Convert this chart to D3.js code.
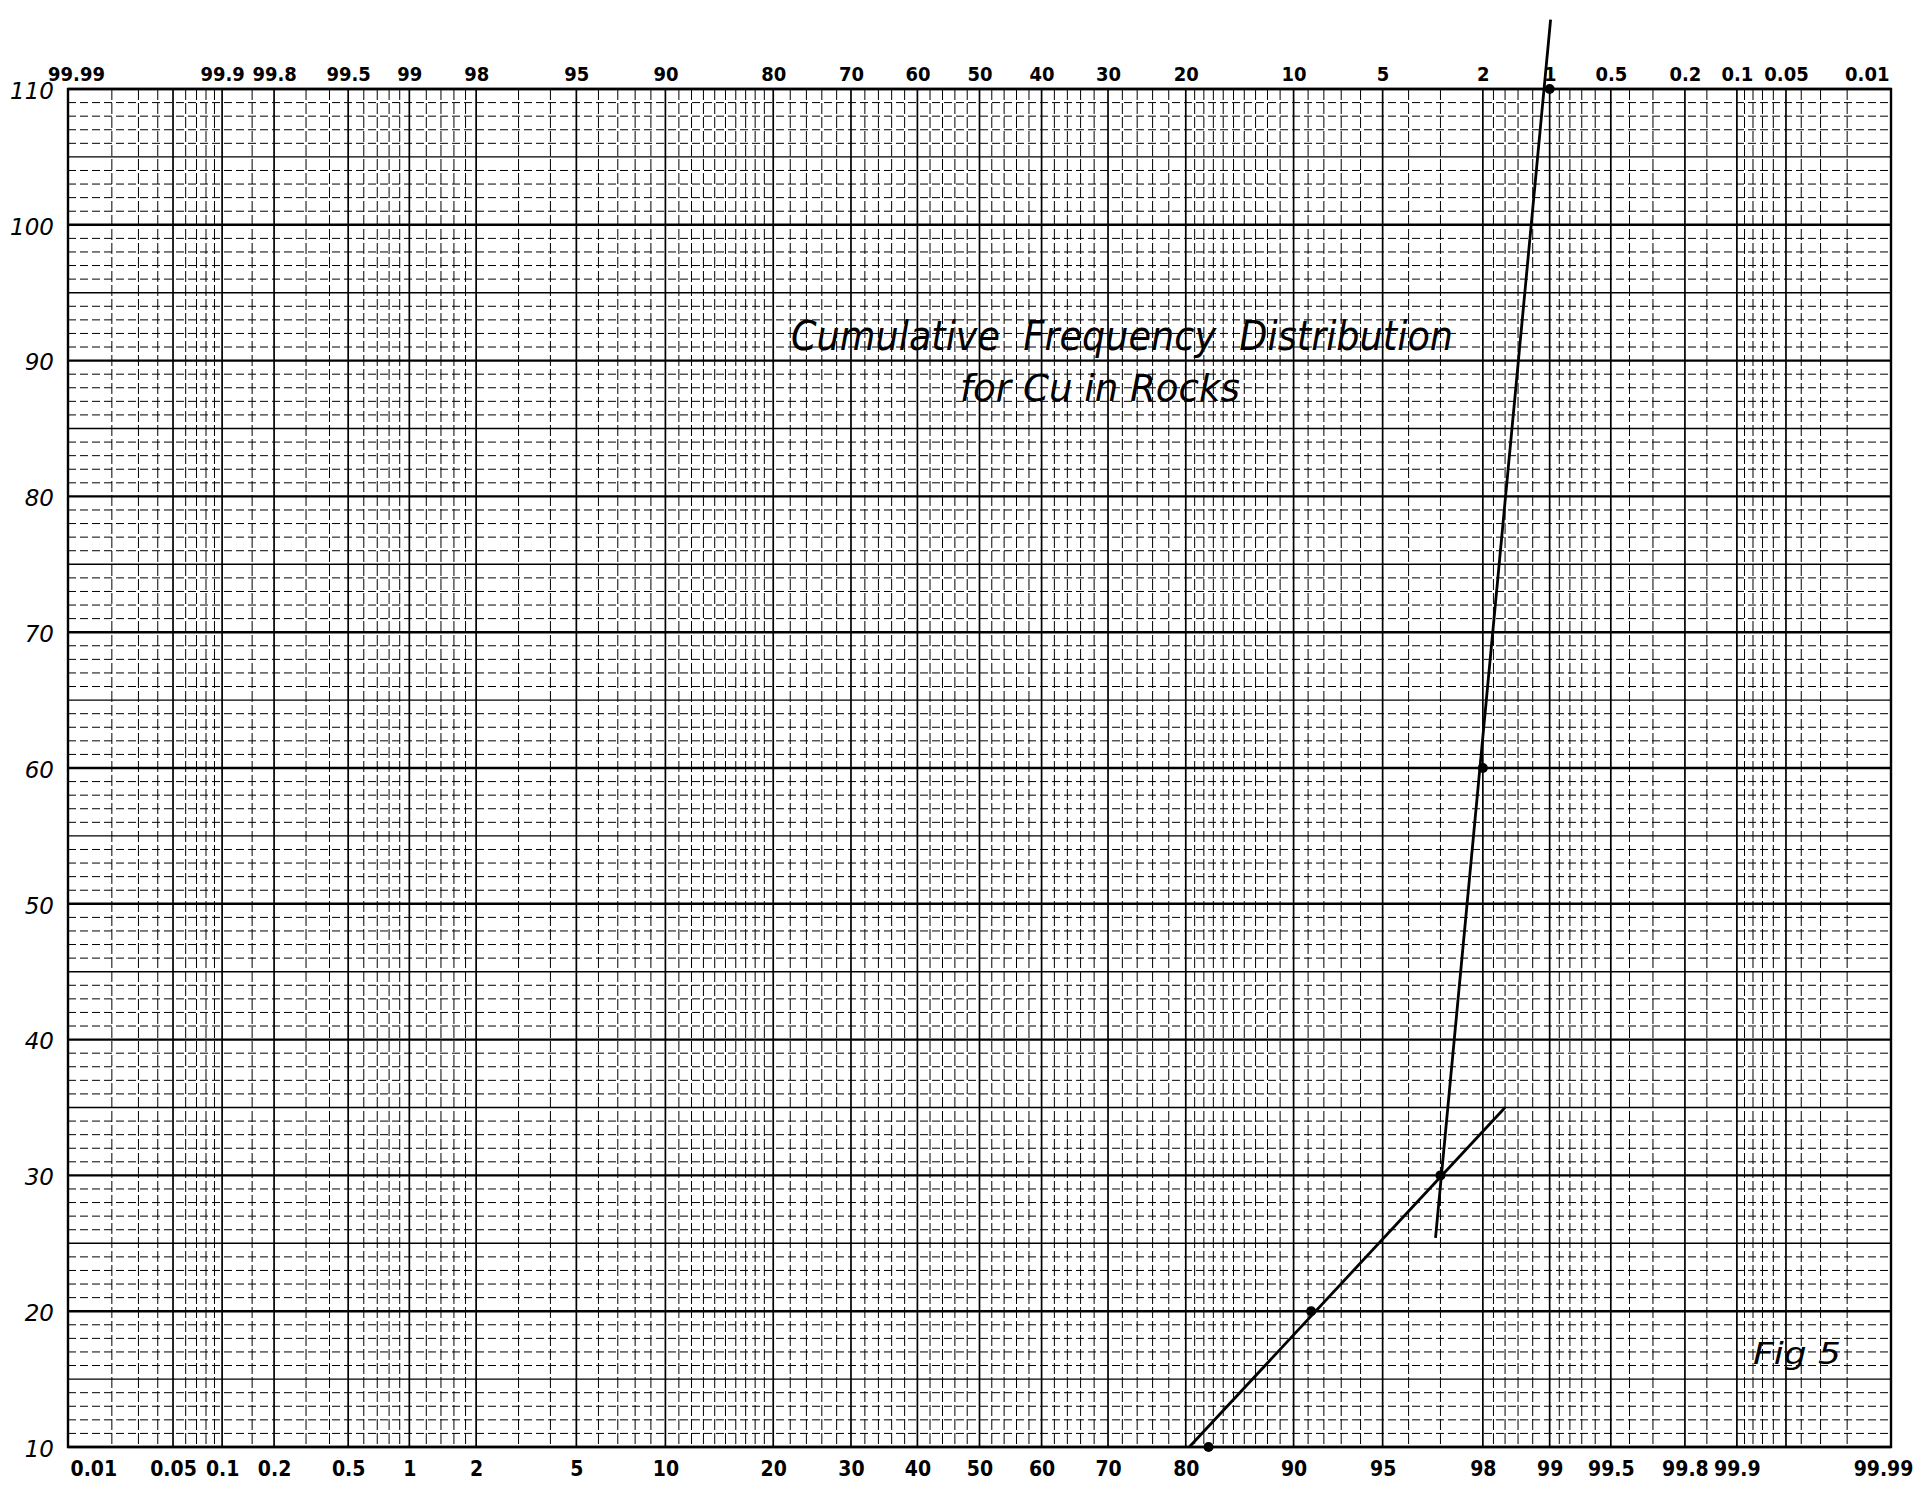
<!DOCTYPE html>
<html>
<head>
<meta charset="utf-8">
<script src="https://cdn.jsdelivr.net/npm/d3@7"></script>
<style>
  html, body { margin: 0; padding: 0; background: #fff; }
  svg { display: block; }
</style>
</head>
<body>
<svg id="chart" width="1929" height="1492"></svg>
<script>
// ---------------- data ----------------
// cumulative frequency (%) on probability scale, Cu (ppm) on linear scale
const pointProb = [82.5, 91.2, 97.0, 98.0, 99.0];
const pointCu   = [10, 20, 30, 60, 110];

// fitted straight lines (hand drawn), end points
const steepLineProb = [96.86, 99.01];
const steepLineCu   = [25.4, 115.1];
const shallowLineProb = [80.4, 98.4];
const shallowLineCu   = [10, 35];

// probability axis: bottom ticks/labels
const bottomTicks = [0.01, 0.05, 0.1, 0.2, 0.5, 1, 2, 5, 10, 20, 30, 40, 50, 60, 70, 80, 90, 95, 98, 99, 99.5, 99.8, 99.9, 99.99];
const bottomLabels = ["0.01","0.05","0.1","0.2","0.5","1","2","5","10","20","30","40","50","60","70","80","90","95","98","99","99.5","99.8","99.9","99.99"];
// top ticks (position on bottom scale) and their complementary labels
const topTicks = [0.01, 0.1, 0.2, 0.5, 1, 2, 5, 10, 20, 30, 40, 50, 60, 70, 80, 90, 95, 98, 99, 99.5, 99.8, 99.9, 99.95, 99.99];
const topLabels = ["99.99","99.9","99.8","99.5","99","98","95","90","80","70","60","50","40","30","20","10","5","2","1","0.5","0.2","0.1","0.05","0.01"];

// y axis ticks
const yTicks = [10, 20, 30, 40, 50, 60, 70, 80, 90, 100, 110];

// probability paper rulings (lower half; upper half is the complement)
const gridLowerHalf = [0.01,0.02,0.03,0.04,0.05,0.06,0.07,0.08,0.09,0.1,0.15,
  0.2,0.3,0.4,0.5,0.6,0.7,0.8,0.9,1,1.2,1.4,1.6,1.8,
  2,3,4,5,6,7,8,9,10,11,12,13,14,15,16,17,18,19,
  20,22,24,26,28,30,32,34,36,38,40,42,44,46,48,50];
const majorProb = [0.01,0.05,0.1,0.2,0.5,1,2,5,10,20,30,40,50,60,70,80,90,95,98,99,99.5,99.8,99.9,99.95,99.99];

// ---------------- helpers ----------------
function probit(p){
  const a=[-3.969683028665376e+01,2.209460984245205e+02,-2.759285104469687e+02,1.383577518672690e+02,-3.066479806614716e+01,2.506628277459239e+00];
  const b=[-5.447609879822406e+01,1.615858368580409e+02,-1.556989798598866e+02,6.680131188771972e+01,-1.328068155288572e+01];
  const c=[-7.784894002430293e-03,-3.223964580411365e-01,-2.400758277161838e+00,-2.549732539343734e+00,4.374664141464968e+00,2.938163982698783e+00];
  const d=[7.784695709041462e-03,3.224671290700398e-01,2.445134137142996e+00,3.754408661907416e+00];
  const pl=0.02425, ph=1-pl; let q,r;
  if(p<pl){q=Math.sqrt(-2*Math.log(p));return (((((c[0]*q+c[1])*q+c[2])*q+c[3])*q+c[4])*q+c[5])/((((d[0]*q+d[1])*q+d[2])*q+d[3])*q+1);}
  if(p<=ph){q=p-0.5;r=q*q;return (((((a[0]*r+a[1])*r+a[2])*r+a[3])*r+a[4])*r+a[5])*q/(((((b[0]*r+b[1])*r+b[2])*r+b[3])*r+b[4])*r+1);}
  q=Math.sqrt(-2*Math.log(1-p));return -(((((c[0]*q+c[1])*q+c[2])*q+c[3])*q+c[4])*q+c[5])/((((d[0]*q+d[1])*q+d[2])*q+d[3])*q+1);
}

const L = 68, R = 1891, T = 89, B = 1447;
const xz = d3.scaleLinear().domain([probit(0.0001), probit(0.9999)]).range([L, R]);
const x = p => xz(probit(p / 100));
const y = d3.scaleLinear().domain([10, 110]).range([B, T]);

const svg = d3.select("#chart");
svg.append("rect").attr("width", 1929).attr("height", 1492).attr("fill", "#fff");

const grid = svg.append("g");

// vertical rulings
const gridAll = Array.from(new Set(gridLowerHalf.concat(gridLowerHalf.map(v => +(100 - v).toFixed(2))))).sort((a,b)=>a-b);
grid.selectAll("line.v").data(gridAll).join("line")
  .attr("y1", T).attr("y2", B)
  .attr("x1", d => x(d)).attr("x2", d => x(d))
  .attr("stroke", "#000")
  .attr("stroke-width", d => majorProb.includes(d) ? 1.7 : 1)
  .attr("stroke-dasharray", d => majorProb.includes(d) ? null : "11,3");

// horizontal rulings
const yMinor = d3.range(10, 111, 1);
grid.selectAll("line.h").data(yMinor).join("line")
  .attr("x1", L).attr("x2", R)
  .attr("y1", d => y(d)).attr("y2", d => y(d))
  .attr("stroke", "#000")
  .attr("stroke-width", d => d % 10 === 0 ? 2.4 : (d % 5 === 0 ? 1.4 : 1))
  .attr("stroke-dasharray", d => d % 5 === 0 ? null : "8,4");

// frame
svg.append("rect").attr("x", L).attr("y", T).attr("width", R - L).attr("height", B - T)
  .attr("fill", "none").attr("stroke", "#000").attr("stroke-width", 2.4);

// axes
const fontLab = "'DejaVu Sans Condensed', 'DejaVu Sans', sans-serif";

const bottomAxis = d3.axisBottom(xz).tickValues(bottomTicks.map(p => probit(p / 100))).tickSize(0).tickPadding(0)
  .tickFormat((d, i) => bottomLabels[i]);
const gB = svg.append("g").attr("transform", `translate(0,${B})`).call(bottomAxis);
gB.select(".domain").remove();
gB.selectAll("text").attr("dy", null).attr("y", 29)
  .attr("font-family", fontLab).attr("font-weight", "bold").attr("font-size", 21).attr("fill", "#000");
gB.selectAll(".tick").filter((d, i) => i === 0).select("text").attr("text-anchor", "start").attr("x", 2);
gB.selectAll(".tick").filter((d, i) => i === bottomTicks.length - 1).select("text").attr("x", -8);

const topAxis = d3.axisTop(xz).tickValues(topTicks.map(p => probit(p / 100))).tickSize(0).tickPadding(0)
  .tickFormat((d, i) => topLabels[i]);
const gT = svg.append("g").attr("transform", `translate(0,${T})`).call(topAxis);
gT.select(".domain").remove();
gT.selectAll("text").attr("dy", null).attr("y", -8)
  .attr("font-family", fontLab).attr("font-weight", "bold").attr("font-size", 20).attr("fill", "#000");
gT.selectAll(".tick").filter((d, i) => i === 0).select("text").attr("x", 8);
gT.selectAll(".tick").filter((d, i) => i === topTicks.length - 1).select("text").attr("text-anchor", "end").attr("x", -2);

const leftAxis = d3.axisLeft(y).tickValues(yTicks).tickSize(0).tickPadding(0).tickFormat(d3.format("d"));
const gL = svg.append("g").attr("transform", `translate(54,0)`).call(leftAxis);
gL.select(".domain").remove();
gL.selectAll("text").attr("dy", "0.4em")
  .attr("font-family", "'DejaVu Sans', sans-serif").attr("font-style", "oblique")
  .attr("font-size", 23).attr("fill", "#000");

// fitted lines
const lineGen = d3.line().x(d => x(d[0])).y(d => y(d[1]));
svg.append("path").datum(steepLineProb.map((p, i) => [p, steepLineCu[i]]))
  .attr("d", lineGen).attr("fill", "none").attr("stroke", "#000").attr("stroke-width", 2.8);
svg.append("path").datum(shallowLineProb.map((p, i) => [p, shallowLineCu[i]]))
  .attr("d", lineGen).attr("fill", "none").attr("stroke", "#000").attr("stroke-width", 2.8);

// data points
svg.selectAll("circle.pt").data(pointProb.map((p, i) => [p, pointCu[i]])).join("circle")
  .attr("cx", d => x(d[0])).attr("cy", d => y(d[1])).attr("r", 5).attr("fill", "#000");

// title and figure label
const fontHand = "'DejaVu Sans Condensed', 'DejaVu Sans', sans-serif";
svg.append("text").attr("x", 791).attr("y", 350)
  .attr("font-family", fontHand).attr("font-style", "oblique").attr("font-size", 40)
  .attr("textLength", 662).attr("lengthAdjust", "spacingAndGlyphs")
  .attr("fill", "#000").attr("xml:space", "preserve")
  .text("Cumulative  Frequency  Distribution");
svg.append("text").attr("x", 960).attr("y", 401)
  .attr("font-family", fontHand).attr("font-style", "oblique").attr("font-size", 38)
  .attr("textLength", 280).attr("lengthAdjust", "spacingAndGlyphs")
  .attr("fill", "#000")
  .text("for Cu in Rocks");
svg.append("text").attr("x", 1753).attr("y", 1364)
  .attr("font-family", fontHand).attr("font-style", "oblique").attr("font-size", 30)
  .attr("textLength", 88).attr("lengthAdjust", "spacingAndGlyphs")
  .attr("fill", "#000")
  .text("Fig 5");
</script>
</body>
</html>
